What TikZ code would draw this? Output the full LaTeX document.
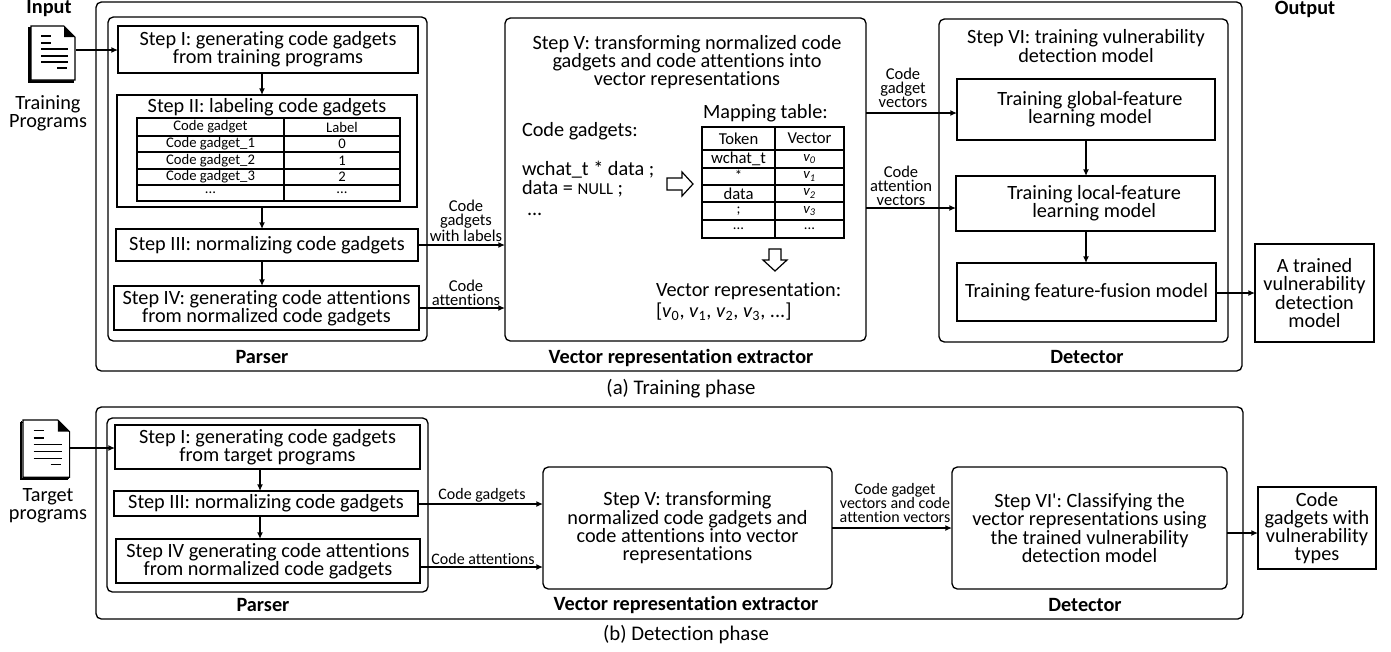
\documentclass[tikz,border=0pt]{standalone}
\usepackage{fontspec}
\setmainfont[Ligatures={CommonOff,TeXOff}]{Carlito}
\usetikzlibrary{arrows.meta}
\tikzset{
  x=0.75pt,y=-0.75pt,
  every node/.style={inner sep=0pt,outer sep=0pt,align=center,text=black},
  main/.style={font=\fontsize{15.2}{13.7}\selectfont},
  lab/.style={font=\fontsize{12.4}{10.6}\selectfont},
  labb/.style={font=\fontsize{12}{10.6}\selectfont},
  cell/.style={font=\fontsize{11}{11}\selectfont},
  ttl/.style={font=\fontsize{15.2}{14}\selectfont\bfseries},
  captxt/.style={font=\fontsize{15.6}{14}\selectfont},
  sq/.style={draw,line width=1pt,main},
  rnd/.style={draw,line width=1pt,rounded corners=4pt},
  cl/.style={draw,line width=1pt,cell},
  arr/.style={line width=1pt,-{Latex[length=5pt,width=4.5pt]}},
  blockarr/.style={draw,line width=0.9pt,fill=white,line join=miter},
}
\newcommand\bx[7]{%
  \pgfmathsetmacro\bw{(#4-#2)*0.75}\pgfmathsetmacro\bh{(#5-#3)*0.75}%
  \pgfmathsetmacro\cx{(#4+#2)/2}\pgfmathsetmacro\cy{(#5+#3)/2}%
  \node[#6,minimum width=\bw pt,minimum height=\bh pt] (#1) at (\cx,\cy) {#7};}
\newcommand\docicon[3]{%
 \begin{scope}[shift={(#1,#2)},scale=#3,line width=0.8pt]
  \draw (0,2) -- (-2,2) -- (-2,56) -- (42,56) -- (42,54);
  \draw (-1,1) -- (-1,55) -- (43,55);
  \draw[fill=white] (0,0) -- (33,0) -- (44,11) -- (44,54) -- (0,54) -- cycle;
  \fill (33,0) -- (44,11) -- (33,11) -- cycle;
  \draw (10,10) -- (20,10) (10,17) -- (20,17) (10,23) -- (37,23) (10,30) -- (37,30) (10,36) -- (37,36) (26,42) -- (36,42);
 \end{scope}}
\begin{document}
\begin{tikzpicture}
\useasboundingbox (0,0) rectangle (1391,651);
\coordinate (xp) at (262,0);
\coordinate (xd) at (1086,0);
\coordinate (xq) at (260,0);
% ---------- (a)
\bx{outa}{96}{2}{1242}{371}{rnd}{}
\bx{para}{108}{17}{427}{341}{rnd}{}
\bx{veca}{505}{18}{866}{341}{rnd}{}
\bx{deta}{939}{19}{1228}{342}{rnd}{}
\bx{si}{118}{26}{418}{73}{sq}{Step I: generating code gadgets\\from training programs}
\bx{sii}{117}{95}{417}{207}{draw,line width=1pt}{}
\node[main] (siit) at (267,107) {Step II: labeling code gadgets};
\bx{siii}{116}{229}{418}{261}{sq}{Step III: normalizing code gadgets}
\bx{siv}{114}{286}{419}{330}{sq}{Step IV: generating code attentions\\from normalized code gadgets}
% table 1
\bx{ta1}{137}{118}{284}{136}{cl}{Code gadget}
\bx{tb1}{284}{118}{400}{136}{cl}{Label}
\bx{ta2}{137}{136}{284}{152}{cl}{Code gadget\_1}
\bx{tb2}{284}{136}{400}{152}{cl}{0}
\bx{ta3}{137}{152}{284}{169}{cl}{Code gadget\_2}
\bx{tb3}{284}{152}{400}{169}{cl}{1}
\bx{ta4}{137}{169}{284}{185}{cl}{Code gadget\_3}
\bx{tb4}{284}{169}{400}{185}{cl}{2}
\bx{ta5}{137}{185}{284}{201}{cl}{...}
\bx{tb5}{284}{185}{400}{201}{cl}{...}
% step V text
\node[main] (svt) at (687,62) {Step V: transforming normalized code\\gadgets and code attentions into\\vector representations};
\node[main,anchor=west] (cgt) at (522,131) {Code gadgets:};
\node[main,anchor=west] (c1) at (522,170) {wchat\_t * data ;};
\node[main,anchor=west] (c2) at (522,189) {data = {\fontsize{12.5}{13}\selectfont NULL} ;};
\node[main,anchor=west] (c3) at (527,214) {...};
\node[main,anchor=west] (mt) at (703,113) {Mapping table:};
% table 2
\bx{ua1}{702}{127}{775}{150}{cl}{\fontsize{12.5}{13}\selectfont Token}
\bx{ub1}{775}{127}{844}{150}{cl}{\fontsize{12.5}{13}\selectfont Vector}
\bx{ua2}{702}{150}{775}{168}{cl}{\fontsize{12.5}{13}\selectfont wchat\_t}
\bx{ub2}{775}{150}{844}{168}{cl}{\itshape v\textsubscript{0}}
\bx{ua3}{702}{168}{775}{185}{cl}{\raisebox{2pt}{*}}
\bx{ub3}{775}{168}{844}{185}{cl}{\itshape v\textsubscript{1}}
\bx{ua4}{702}{185}{775}{202}{cl}{\fontsize{12.5}{13}\selectfont data}
\bx{ub4}{775}{185}{844}{202}{cl}{\itshape v\textsubscript{2}}
\bx{ua5}{702}{202}{775}{220}{cl}{;}
\bx{ub5}{775}{202}{844}{220}{cl}{\itshape v\textsubscript{3}}
\bx{ua6}{702}{220}{775}{238}{cl}{...}
\bx{ub6}{775}{220}{844}{238}{cl}{...}
\draw[blockarr] (667,178) -- (682,178) -- (682,172) -- (693,184) -- (682,196) -- (682,190) -- (667,190) -- cycle;
\draw[blockarr] (769,249) -- (781,249) -- (781,260) -- (787,260) -- (775,271) -- (763,260) -- (769,260) -- cycle;
\node[main,anchor=west] (vr) at (656,291) {Vector representation:};
\node[main,anchor=west] (vl) at (656,312) {[\textit{v}\textsubscript{0}, \textit{v}\textsubscript{1}, \textit{v}\textsubscript{2}, \textit{v}\textsubscript{3}, ...]};
% detector
\node[main] (svi) at (1086,46) {Step VI: training vulnerability\\detection model};
\bx{tg}{957}{79}{1215}{140}{sq}{\hspace*{6pt}Training global-feature\\\hspace*{6pt}learning model}
\bx{tl}{956}{176}{1215}{231}{sq}{\hspace*{13pt}Training local-feature\\\hspace*{13pt}learning model}
\bx{tf}{957}{263}{1216}{321}{sq}{Training feature-fusion model}
\bx{oa}{1255}{244}{1374}{342}{sq}{A trained\\vulnerability\\detection\\model}
% titles
\node[ttl] (ina) at (49,9) {Input};
\node[ttl] (outt) at (1305,9) {Output};
\node[main] (trp) at (48,113) {Training\\Programs};
\node[ttl] (pt) at (262,357) {Parser};
\node[ttl] (vt) at (681,358) {Vector representation extractor};
\node[ttl] (dt) at (1087,357) {Detector};
\node[captxt] (capa) at (681,389) {(a) Training phase};
% doc a
\docicon{31}{26}{1}
\coordinate (doca) at (76,50);
% arrows a
\draw[arr] (doca) -- (si.west |- doca);
\draw[arr] (si.south -| xp) -- (sii.north -| xp);
\draw[arr] (sii.south -| xp) -- (siii.north -| xp);
\draw[arr] (siii.south -| xp) -- (siv.north -| xp);
\draw[arr] (siii.east) -- (veca.west |- siii.east);
\draw[arr] (siv.east) -- (veca.west |- siv.east);
\coordinate (ga) at (957,113);
\coordinate (la) at (956,208);
\draw[arr] (veca.east |- ga) -- (ga);
\draw[arr] (veca.east |- la) -- (la);
\draw[arr] (tg.south -| xd) -- (tl.north -| xd);
\draw[arr] (tl.south -| xd) -- (tf.north -| xd);
\coordinate (fo) at (1216,293);
\draw[arr] (fo) -- (oa.west |- fo);
\node[lab] (l1) at (466,221) {Code\\gadgets\\with labels};
\node[lab] (l2) at (466,293) {Code\\attentions};
\node[lab] (l3) at (903,88) {Code\\gadget\\vectors};
\node[lab] (l4) at (901,186) {Code\\attention\\vectors};
% ---------- (b)
\bx{outb}{96}{407}{1243}{619}{rnd}{}
\bx{parb}{107}{418}{428}{592}{rnd}{}
\bx{bi}{115}{425}{420}{469}{sq}{Step I: generating code gadgets\\from target programs}
\bx{biii}{114}{491}{418}{516}{sq}{Step III: normalizing code gadgets}
\bx{biv}{116}{539}{420}{583}{sq}{Step IV generating code attentions\\from normalized code gadgets}
\bx{vecb}{543}{467}{832}{589}{rnd,main}{Step V: transforming\\normalized code gadgets and\\code attentions into vector\\representations}
\bx{detb}{952}{467}{1227}{589}{rnd,main}{Step VI': Classifying the\\vector representations using\\the trained vulnerability\\detection model}
\bx{ob}{1258}{487}{1376}{569}{sq}{Code\\gadgets with\\vulnerability\\types}
\node[main] (tap) at (48,506) {Target\\programs};
\node[ttl] (pb) at (263,605) {Parser};
\node[ttl] (vb) at (686,605) {Vector representation extractor};
\node[ttl] (db) at (1085,605) {Detector};
\node[captxt] (capb) at (686,635) {(b) Detection phase};
\docicon{23}{420}{1.06}
\coordinate (docb) at (70,448);
\draw[arr] (docb) -- (bi.west |- docb);
\draw[arr] (bi.south -| xq) -- (biii.north -| xq);
\draw[arr] (biii.south -| xq) -- (biv.north -| xq);
\coordinate (b1) at (418,504);
\coordinate (b2) at (420,567);
\draw[arr] (b1) -- (vecb.west |- b1);
\draw[arr] (b2) -- (vecb.west |- b2);
\coordinate (b3) at (832,528);
\draw[arr] (b3) -- (detb.west |- b3);
\coordinate (b4) at (1227,533);
\draw[arr] (b4) -- (ob.west |- b4);
\node[labb] (m1) at (482,495) {Code gadgets};
\node[labb] (m2) at (483,559) {Code attentions};
\node[labb] (m3) at (895,503) {Code gadget\\vectors and code\\attention vectors};
\end{tikzpicture}
\end{document}
